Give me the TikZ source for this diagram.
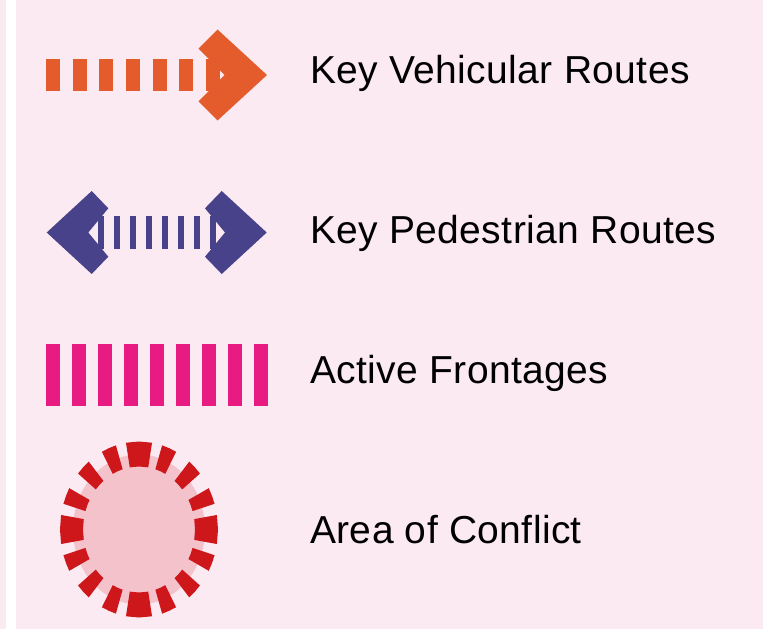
\documentclass[tikz,border=0pt]{standalone}
\usepackage{fontspec}
\setmainfont{Liberation Sans}[LetterSpace=1]
\usetikzlibrary{calc}

\definecolor{legendbg}{HTML}{FCEAF2}
\definecolor{vehorange}{HTML}{E45B2C}
\definecolor{pedblue}{HTML}{47428A}
\definecolor{frontpink}{HTML}{E71B82}
\definecolor{conflictred}{HTML}{CD171B}
\definecolor{conflictfill}{HTML}{F4C2CB}

\begin{document}
\begin{tikzpicture}[
  x=1pt, y=-1pt,
  lab/.style={anchor=base west, inner sep=0pt, text=black,
              font=\fontsize{39}{44}\selectfont},
  vehicle/.style={vehorange, line width=32pt, dash pattern=on 14pt off 12.67pt},
  pedestrian/.style={pedblue, line width=32.6pt, dash pattern=on 6pt off 10pt},
  frontage/.style={frontpink, line width=62pt, dash pattern=on 14pt off 12pt}
]
\useasboundingbox (0,0) rectangle (763,629);
\fill[legendbg] (0,0) rectangle (763,629);
\fill[white] (6,0) rectangle (16,629);

% key vehicular routes
\draw[vehicle] (46,75) -- (220.7,75);
\fill[vehorange] (217.5,29.5) -- (267,75) -- (217.5,120.5) -- (198.5,101.5)
  -- (224.5,75) -- (198.5,48.5) -- cycle;
\node[lab] (vehlab) at (310,83) {Key Vehicular Routes};

% key pedestrian routes
\draw[pedestrian] (98,232.5) -- (216,232.5);
\fill[pedblue] (46.7,232.5) -- (91.7,191) -- (108.3,208.3) -- (88.3,232.5)
  -- (108.3,256.7) -- (91.7,274) -- cycle;
\fill[pedblue] (266.7,232.5) -- (221.7,191) -- (205,208.3) -- (225,232.5)
  -- (205,256.7) -- (221.7,274) -- cycle;
\node[lab] (pedlab) at (310,243) {Key Pedestrian Routes};

% active frontages
\draw[frontage] (46,375) -- (268,375);
\node[lab] (frontlab) at (310,383) {Active Frontages};

% area of conflict
\begin{scope}[shift={(139,529.5)}]
  \fill[conflictfill] (0,0) ellipse [x radius=66, y radius=75];
  \foreach \a/\d in {0/9.5, 22.5/5.5, 45/5.5, 67.5/5.5, 90/9.5, 112.5/5.5,
                     135/5.5, 157.5/5.5, 180/9.5, 202.5/5.5, 225/5.5, 247.5/5.5,
                     270/9.5, 292.5/5.5, 315/5.5, 337.5/5.5}
    \fill[conflictred] ({79*cos(\a-\d)},{88*sin(\a-\d)}) -- ({79*cos(\a)},{88*sin(\a)})
      -- ({79*cos(\a+\d)},{88*sin(\a+\d)}) -- ({56*cos(\a+\d)},{63*sin(\a+\d)})
      -- ({56*cos(\a)},{63*sin(\a)}) -- ({56*cos(\a-\d)},{63*sin(\a-\d)}) -- cycle;
\end{scope}
\node[lab] (conflab) at (310,543) {Area of Conflict};
\end{tikzpicture}
\end{document}
